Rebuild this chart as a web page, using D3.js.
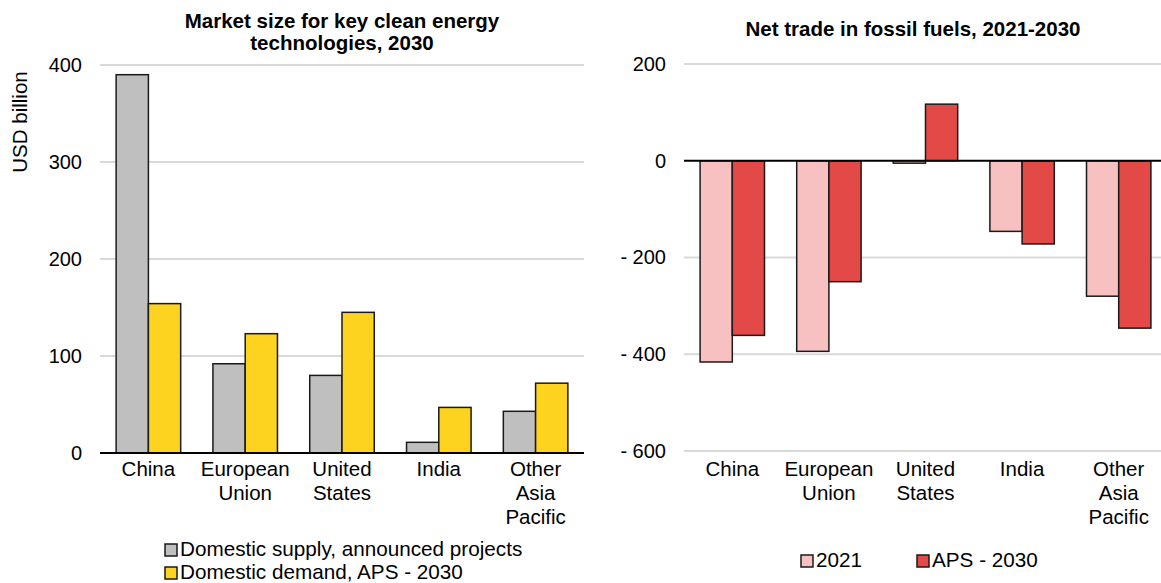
<!DOCTYPE html>
<html>
<head>
<meta charset="utf-8">
<script src="https://cdn.jsdelivr.net/npm/d3@7"></script>
<style>
  body { margin: 0; background: #fff; }
  text { font-family: "Liberation Sans", Arial, sans-serif; fill: #000; }
</style>
</head>
<body>
<div id="chart-area"></div>
<script>
// Data
const categories = ["China", "European Union", "United States", "India", "Other Asia Pacific"];
const categoryLines = [["China"], ["European", "Union"], ["United", "States"], ["India"], ["Other", "Asia", "Pacific"]];

// Left panel: market size, USD billion
const marketSeries = ["Domestic supply, announced projects", "Domestic demand, APS - 2030"];
const supplyValues = [390, 92, 80, 11, 43];
const demandValues = [154, 123, 145, 47, 72];
const marketTicks = [0, 100, 200, 300, 400];

// Right panel: net trade in fossil fuels
const tradeSeries = ["2021", "APS - 2030"];
const trade2021 = [-416, -394, -5, -146, -280];
const tradeAPS = [-361, -250, 117, -172, -346];
const tradeTicks = [-600, -400, -200, 0, 200];

const width = 1161;
const height = 583;

const svg = d3.select("#chart-area")
    .append("svg")
    .attr("width", width)
    .attr("height", height);

// Draws one grouped bar panel
function drawPanel(opts) {
    const g = svg.append("g");

    const x0 = d3.scaleBand()
        .domain(categories)
        .range([opts.left, opts.right])
        .paddingInner(1 / 3)
        .paddingOuter(1 / 6);

    const x1 = d3.scaleBand()
        .domain(opts.series)
        .range([0, x0.bandwidth()]);

    const y = d3.scaleLinear()
        .domain(opts.domain)
        .range([opts.bottom, opts.top]);

    // gridlines
    g.selectAll(".grid")
        .data(opts.ticks.filter(t => t !== 0))
        .enter()
        .append("line")
        .attr("x1", opts.left)
        .attr("x2", opts.gridRight)
        .attr("y1", d => y(d))
        .attr("y2", d => y(d))
        .attr("stroke", "#d9d9d9")
        .attr("stroke-width", 2);

    // tick labels via d3 axis
    const axis = d3.axisLeft(y)
        .tickValues(opts.ticks)
        .tickSize(0)
        .tickPadding(18)
        .tickFormat(d => d < 0 ? "- " + Math.abs(d) : d);
    const ax = g.append("g")
        .attr("transform", `translate(${opts.left},0)`)
        .call(axis);
    ax.select(".domain").remove();
    ax.attr("font-size", null).attr("font-family", null);
    ax.selectAll("text")
        .style("font-size", "20px")
        .attr("fill", "#000");

    // bars
    const rows = categories.map((c, i) => ({ cat: c, vals: opts.values.map(v => v[i]) }));
    const groups = g.selectAll(".grp")
        .data(rows)
        .enter()
        .append("g")
        .attr("transform", d => `translate(${x0(d.cat)},0)`);

    groups.selectAll("rect")
        .data(d => d.vals.map((v, j) => ({ key: opts.series[j], v: v, color: opts.colors[j] })))
        .enter()
        .append("rect")
        .attr("x", d => x1(d.key))
        .attr("width", x1.bandwidth())
        .attr("y", d => y(Math.max(0, d.v)))
        .attr("height", d => Math.abs(y(d.v) - y(0)))
        .attr("fill", d => d.color)
        .attr("stroke", "#1a1a1a")
        .attr("stroke-width", 1.5);

    // zero line
    g.append("line")
        .attr("x1", opts.left)
        .attr("x2", opts.gridRight)
        .attr("y1", y(0))
        .attr("y2", y(0))
        .attr("stroke", "#000")
        .attr("stroke-width", 2);

    // category labels
    const labels = g.selectAll(".cat")
        .data(categories)
        .enter()
        .append("text")
        .attr("text-anchor", "middle")
        .attr("x", d => x0(d) + x0.bandwidth() / 2)
        .attr("y", opts.catY)
        .style("font-size", "20.5px");
    labels.each(function(d, i) {
        const t = d3.select(this);
        categoryLines[i].forEach((line, k) => {
            t.append("tspan")
                .attr("x", x0(d) + x0.bandwidth() / 2)
                .attr("dy", k === 0 ? 0 : 24)
                .text(line);
        });
    });

    // title
    const title = g.append("text")
        .attr("text-anchor", "middle")
        .attr("x", opts.titleX)
        .attr("y", opts.titleY)
        .style("font-size", "20.5px")
        .style("font-weight", "bold");
    opts.title.forEach((line, k) => {
        title.append("tspan")
            .attr("x", opts.titleX)
            .attr("dy", k === 0 ? 0 : 22)
            .text(line);
    });

    // legend
    opts.legend.forEach((item, j) => {
        g.append("rect")
            .attr("x", item.x)
            .attr("y", item.y - 6)
            .attr("width", 12)
            .attr("height", 12)
            .attr("fill", opts.colors[j])
            .attr("stroke", "#1a1a1a")
            .attr("stroke-width", 1.5);
        g.append("text")
            .attr("x", item.x + 15)
            .attr("y", item.y + 6)
            .style("font-size", "20.7px")
            .text(opts.series[j]);
    });
}

drawPanel({
    left: 100, right: 584, gridRight: 584,
    top: 65, bottom: 453,
    domain: [0, 400],
    ticks: marketTicks,
    series: marketSeries,
    values: [supplyValues, demandValues],
    colors: ["#bfbfbf", "#fdd320"],
    catY: 476,
    title: ["Market size for key clean energy", "technologies, 2030"],
    titleX: 342, titleY: 28,
    legend: [{ x: 165, y: 550 }, { x: 165, y: 573 }]
});

drawPanel({
    left: 684, right: 1167, gridRight: 1161,
    top: 64, bottom: 451,
    domain: [-600, 200],
    ticks: tradeTicks,
    series: tradeSeries,
    values: [trade2021, tradeAPS],
    colors: ["#f7c1c1", "#e34a47"],
    catY: 476,
    title: ["Net trade in fossil fuels, 2021-2030"],
    titleX: 913, titleY: 36,
    legend: [{ x: 801, y: 561 }, { x: 917, y: 561 }]
});

// y-axis title (left panel)
svg.append("text")
    .attr("transform", "translate(27,122) rotate(-90)")
    .attr("text-anchor", "middle")
    .style("font-size", "20.5px")
    .text("USD billion");
</script>
</body>
</html>
